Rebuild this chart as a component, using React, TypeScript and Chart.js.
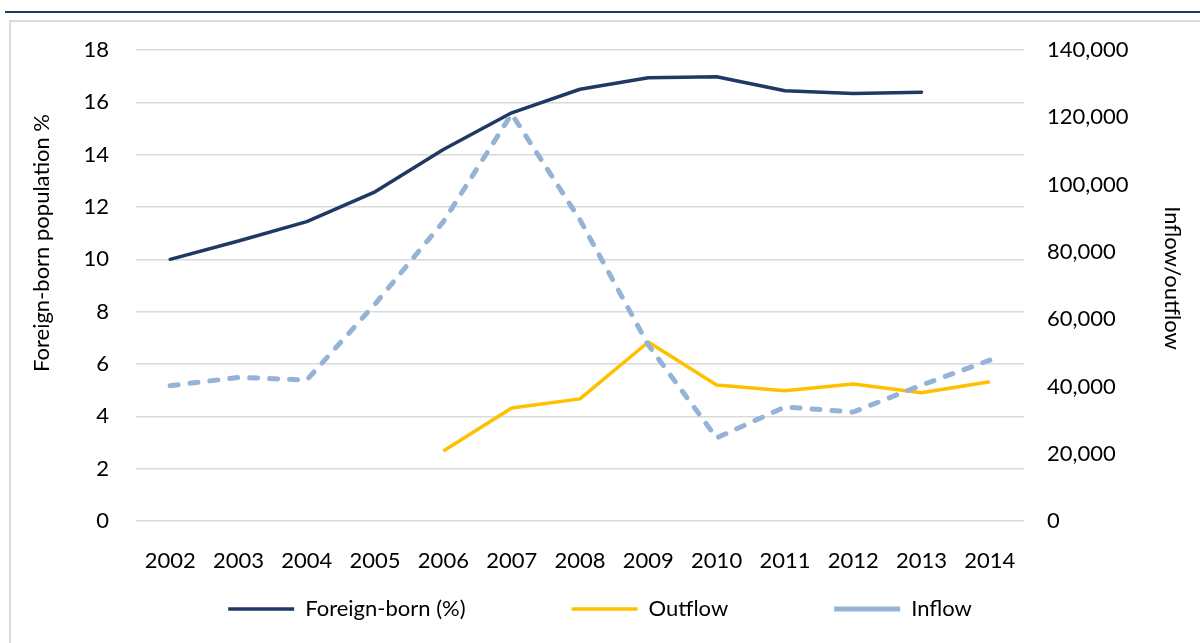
import React, { useEffect, useRef } from 'react';
import { Chart, registerables } from 'chart.js';

Chart.register(...registerables);

const years = ['2002', '2003', '2004', '2005', '2006', '2007', '2008', '2009', '2010', '2011', '2012', '2013', '2014'];
const foreignBornPct = [10.0, 10.7, 11.44, 12.58, 14.2, 15.6, 16.5, 16.94, 16.98, 16.44, 16.34, 16.39, null];
const outflow = [null, null, null, null, 20800, 33600, 36300, 53200, 40400, 38700, 40700, 38100, 41400];
const inflow = [40200, 42700, 41900, 64500, 89000, 121000, 89500, 52300, 24700, 33900, 32400, 40400, 47800];
const leftTicks = [0, 2, 4, 6, 8, 10, 12, 14, 16, 18];
const rightTicks = [0, 20000, 40000, 60000, 80000, 100000, 120000, 140000];
const leftTitle = 'Foreign-born population %';
const rightTitle = 'Inflow/outflow';

const FONT = 'Lato, "Open Sans", sans-serif';
const LEGEND_GAP = 106;

const axisTitlePlugin = {
  id: 'axisTitles',
  afterDraw(chart: any) {
    const ctx = chart.ctx;
    ctx.save();
    ctx.fillStyle = '#000';
    ctx.font = `22px ${FONT}`;
    ctx.textAlign = 'center';
    ctx.textBaseline = 'middle';
    ctx.translate(42, 243);
    ctx.rotate(-Math.PI / 2);
    ctx.fillText(leftTitle, 0, 0);
    ctx.restore();
    ctx.save();
    ctx.fillStyle = '#000';
    ctx.font = `22px ${FONT}`;
    ctx.textAlign = 'center';
    ctx.textBaseline = 'middle';
    ctx.translate(1172, 278);
    ctx.rotate(Math.PI / 2);
    ctx.fillText(rightTitle, 0, 0);
    ctx.restore();
  },
};

export default function App() {
  const ref = useRef<HTMLCanvasElement>(null);
  useEffect(() => {
    if (!ref.current) return;
    const chart = new Chart(ref.current, {
      type: 'line',
      data: {
        labels: years,
        datasets: [
          {
            label: 'Foreign-born (%)',
            data: foreignBornPct,
            yAxisID: 'y',
            borderColor: '#203864',
            backgroundColor: '#203864',
            borderWidth: 3.5,
            pointRadius: 0,
            borderCapStyle: 'round',
            borderJoinStyle: 'round',
            order: 2,
          },
          {
            label: 'Outflow',
            data: outflow,
            yAxisID: 'y1',
            borderColor: '#FFC000',
            backgroundColor: '#FFC000',
            borderWidth: 3.5,
            pointRadius: 0,
            borderCapStyle: 'butt',
            borderJoinStyle: 'round',
            order: 1,
          },
          {
            label: 'Inflow',
            data: inflow,
            yAxisID: 'y1',
            borderColor: '#95B3D7',
            backgroundColor: '#95B3D7',
            borderWidth: 5,
            borderDash: [8, 12],
            pointRadius: 0,
            borderCapStyle: 'round',
            borderJoinStyle: 'round',
            order: 0,
          },
        ],
      },
      options: {
        responsive: false,
        animation: false,
        devicePixelRatio: 1,
        layout: { padding: { left: 0, right: 0, top: 50, bottom: 13 } },
        plugins: {
          tooltip: { enabled: false },
          legend: {
            display: true,
            position: 'bottom',
            title: { display: true, text: '', font: { size: 10 }, padding: { top: 0, bottom: -(LEGEND_GAP + 1) } },
            labels: {
              usePointStyle: true,
              pointStyle: 'line',
              pointStyleWidth: 66,
              boxWidth: 66,
              padding: LEGEND_GAP,
              color: '#000',
              font: { family: FONT, size: 22 },
              sort: (a: any, b: any) => a.datasetIndex - b.datasetIndex,
            },
          },
        },
        scales: {
          x: {
            type: 'category',
            offset: true,
            grid: { display: false },
            border: { display: false },
            ticks: { color: '#000', font: { family: FONT, size: 22 }, padding: 19, maxRotation: 0, autoSkip: false },
            afterFit: (s: any) => { s.height = 66; },
          },
          y: {
            position: 'left',
            min: 0,
            max: 18,
            afterBuildTicks: (s: any) => { s.ticks = leftTicks.map((v) => ({ value: v })); },
            grid: { color: '#d9d9d9', lineWidth: 1.5, drawTicks: false },
            border: { display: false },
            ticks: { color: '#000', font: { family: FONT, size: 22 }, padding: 27 },
            afterFit: (s: any) => { s.width = 136; },
          },
          y1: {
            position: 'right',
            min: 0,
            max: 140000,
            afterBuildTicks: (s: any) => { s.ticks = rightTicks.map((v) => ({ value: v })); },
            grid: { display: false, drawTicks: false },
            border: { display: false },
            ticks: {
              color: '#000',
              font: { family: FONT, size: 22 },
              padding: 23,
              callback: (v: any) => Number(v).toLocaleString('en-US'),
            },
            afterFit: (s: any) => { s.width = 176; },
          },
        },
      },
      plugins: [axisTitlePlugin],
    } as any);
    return () => chart.destroy();
  }, []);

  return (
    <div style={{ position: 'fixed', left: 0, top: 0, width: 1200, height: 643, overflow: 'hidden', background: '#fff' }}>
      <div style={{ position: 'absolute', left: 5, top: 11, width: 1300, height: 2, background: '#203864' }} />
      <div style={{ position: 'absolute', left: 9, top: 20, width: 1300, height: 800, border: '2px solid #d9d9d9', boxSizing: 'border-box' }} />
      <canvas ref={ref} width={1200} height={643} style={{ position: 'absolute', left: 0, top: 0, display: 'block' }} />
    </div>
  );
}
